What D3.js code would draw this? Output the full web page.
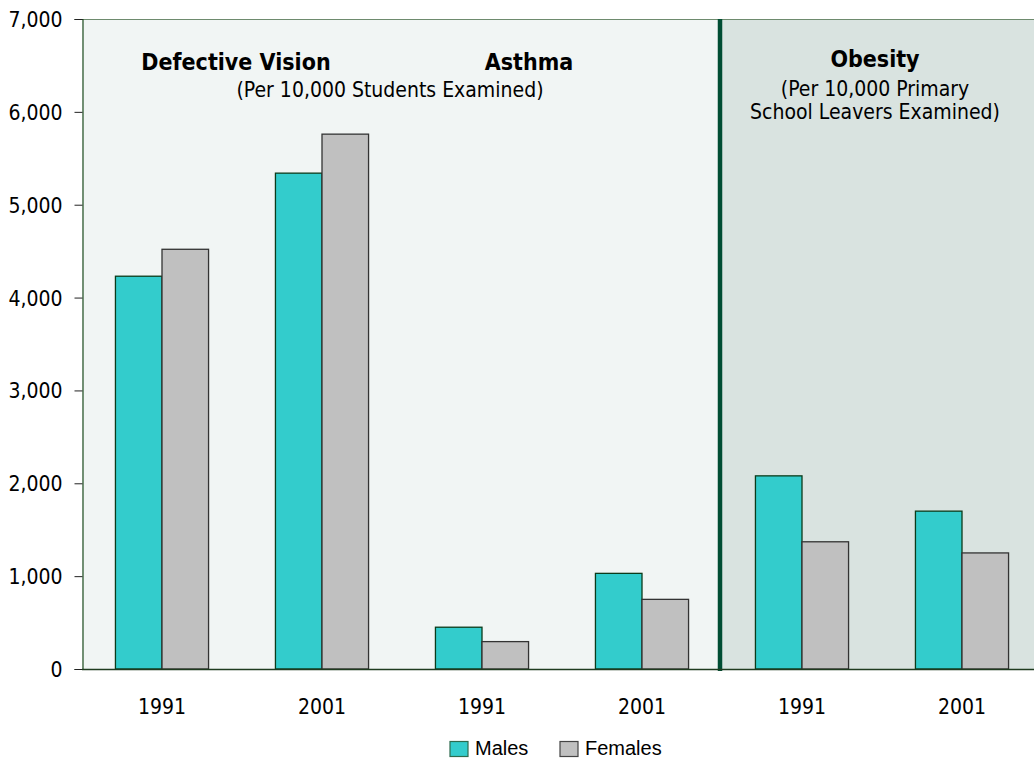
<!DOCTYPE html>
<html><head><meta charset="utf-8">
<script src="https://cdn.jsdelivr.net/npm/d3@7"></script>
<style>body{margin:0;background:#fff}svg{display:block}text{font-family:"DejaVu Sans Condensed","DejaVu Sans",sans-serif;fill:#000}</style>
</head><body>
<script>
const groups = ["DV1991","DV2001","AS1991","AS2001","OB1991","OB2001"];
const groupLabels = ["1991","2001","1991","2001","1991","2001"];
const males = [4230, 5340, 450, 1030, 2080, 1700];
const females = [4520, 5760, 295, 750, 1370, 1250];
const yTicks = [0,1000,2000,3000,4000,5000,6000,7000];
const seriesNames = ["Males","Females"];
const colors = ["#33CCCC","#C0C0C0"];
const strokes = ["#0B3B1B","#333333"];

const W=1034,H=760;
const FONT="DejaVu Sans Condensed, DejaVu Sans, sans-serif";
const svg=d3.select("body").append("svg").attr("width",W).attr("height",H);
const x=d3.scaleBand().domain(groups).range([82,1042]).paddingInner(0.418).paddingOuter(0.209);
const y=d3.scaleLinear().domain([0,7000]).range([669,19]);

const divX = x(groups[4])-x.step()*x.paddingInner()/2 - 2;
// backgrounds
svg.append("rect").attr("x",82).attr("y",y(7000)).attr("width",divX-82).attr("height",y(0)-y(7000)).attr("fill","#F1F5F4");
svg.append("rect").attr("x",divX).attr("y",y(7000)).attr("width",W-divX).attr("height",y(0)-y(7000)).attr("fill","#D9E3E0");
svg.append("line").attr("x1",82).attr("x2",W).attr("y1",y(7000)+0.5).attr("y2",y(7000)+0.5).attr("stroke","#6E8B6E").attr("stroke-width",1);

// bars
const sub=d3.scaleBand().domain([0,1]).range([0,x.bandwidth()]);
const data=groups.map((g,i)=>({g,vals:[males[i],females[i]]}));
const gg=svg.selectAll("g.grp").data(data).join("g").attr("class","grp").attr("transform",d=>`translate(${x(d.g)},0)`);
gg.selectAll("rect").data(d=>d.vals.map((v,k)=>({v,k}))).join("rect")
 .attr("x",d=>sub(d.k)).attr("y",d=>y(d.v)).attr("width",sub.bandwidth()).attr("height",d=>y(0)-y(d.v))
 .attr("fill",d=>colors[d.k]).attr("stroke",d=>strokes[d.k]).attr("stroke-width",1.3);

// divider
svg.append("line").attr("x1",divX).attr("x2",divX).attr("y1",y(7000)).attr("y2",y(0)+2).attr("stroke","#004D33").attr("stroke-width",4.5);

// y axis
const ya=svg.append("g").attr("transform","translate(82.5,0)").call(d3.axisLeft(y).tickValues(yTicks).tickSize(8).tickPadding(12).tickFormat(d3.format(",")));
ya.select(".domain").attr("stroke","#1F4D1F").attr("stroke-width",1.2);
ya.selectAll(".tick line").attr("stroke","#222");
ya.selectAll("text").style("font-size","21px").style("font-family",FONT).attr("dy","0.36em");
// x baseline
svg.append("line").attr("x1",82).attr("x2",W).attr("y1",y(0)+0.5).attr("y2",y(0)+0.5).attr("stroke","#1F3B1F").attr("stroke-width",1.5);
// x labels
const xa=svg.append("g").attr("transform",`translate(0,${y(0)})`).call(d3.axisBottom(x).tickSize(0).tickPadding(0).tickFormat((d,i)=>groupLabels[i]));
xa.select(".domain").remove();
xa.selectAll("text").style("font-size","21px").style("font-family",FONT).attr("y",45).attr("dy",null);

// annotations
const ann=[
 {t:"Defective Vision",x:236,y:70,b:true},
 {t:"Asthma",x:529,y:70,b:true},
 {t:"(Per 10,000 Students Examined)",x:390,y:97,b:false},
 {t:"Obesity",x:875,y:67,b:true},
 {t:"(Per 10,000 Primary",x:875,y:96,b:false},
 {t:"School Leavers Examined)",x:875,y:119,b:false}
];
svg.selectAll("text.ann").data(ann).join("text").attr("class","ann").attr("x",d=>d.x).attr("y",d=>d.y)
 .attr("text-anchor","middle").style("font-size",d=>d.b?"23px":"21px").style("font-weight",d=>d.b?"bold":"normal").text(d=>d.t);

// legend
const lg=svg.append("g");
const lx=[450,560];
seriesNames.forEach((s,i)=>{
 lg.append("rect").attr("x",lx[i]).attr("y",741.5).attr("width",18).attr("height",15).attr("fill",colors[i]).attr("stroke",i?"#444":"#2E6B4E").attr("stroke-width",1.2);
 lg.append("text").attr("x",lx[i]+25).attr("y",755).style("font-size","20px").style("font-family","Liberation Sans, Arial, sans-serif").text(s);
});
</script>
</body></html>
